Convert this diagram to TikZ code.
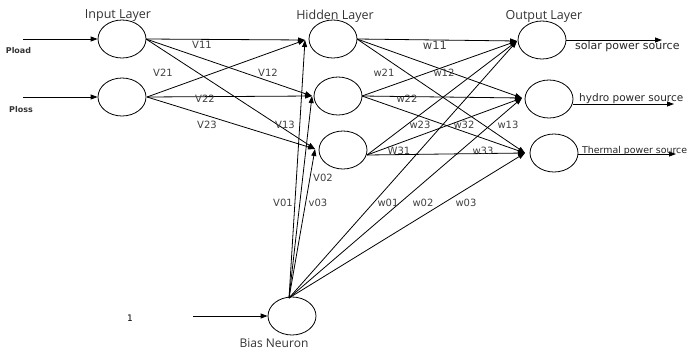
\documentclass[tikz,border=0pt]{standalone}
\usepackage{fontspec}
\setmainfont{DejaVu Sans}
\newfontfamily\titlefont{Open Sans}
\usetikzlibrary{shapes.geometric,arrows.meta}
\tikzset{
  neuron/.style={ellipse,draw,line width=0.8pt,minimum width=48pt,minimum height=38pt,inner sep=0pt},
  link/.style={line width=0.8pt},
  arr/.style={link,-{Triangle[length=7pt,width=5pt]}},
  wlabel/.style={font=\fontsize{10}{11}\selectfont,inner sep=0pt,text=black!75},
  title/.style={font=\titlefont\fontsize{12.5}{14}\selectfont,inner sep=0pt,text=black!80},
  outlabel/.style={anchor=west,inner sep=0pt,text=black!85},
}
\begin{document}
\begin{tikzpicture}[x=1pt,y=-1pt]
\useasboundingbox (0,0) rectangle (690,351);

% layer titles
\node[title] (tin) at (118,16) {Input Layer};
\node[title] (thid) at (335,16) {Hidden Layer};
\node[title] (tout) at (544,16) {Output Layer};

% neurons
\node[neuron] (I1) at (122,39) {};
\node[neuron] (I2) at (122,97) {};
\node[neuron] (H1) at (333,39) {};
\node[neuron] (H2) at (338,96) {};
\node[neuron] (H3) at (343,150) {};
\node[neuron] (O1) at (542,40) {};
\node[neuron] (O2) at (549,99) {};
\node[neuron] (O3) at (554,153) {};
\node[neuron] (B) at (292,316) {};
\node[title,font=\titlefont\fontsize{12}{13}\selectfont] (tbias) at (274,343) {Bias Neuron};

% points where incoming arrows meet
\coordinate (h1in) at (305,40);
\coordinate (h2in) at (312,96);
\coordinate (h3in) at (315,149);
\coordinate (o1in) at (517,41);
\coordinate (o2in) at (522,98);
\coordinate (o3in) at (525,153);
% points where outgoing lines leave
\coordinate (i1out) at (146,39);
\coordinate (i2out) at (147,97);
\coordinate (h1out) at (357,39);
\coordinate (h2out) at (362,96);
\coordinate (h3out) at (367,155);
\coordinate (bout) at (289,298);

% external inputs
\coordinate (pl) at (23,39);
\coordinate (ps) at (23,97);
\coordinate (one) at (193,316);
\draw[arr] (pl) -- (I1);
\draw[arr] (ps) -- (I2);
\draw[arr] (one) -- (B);
\node[font=\bfseries\fontsize{8}{9}\selectfont,inner sep=0pt,text=black!80] (lpl) at (18.5,51) {Pload};
\node[font=\bfseries\fontsize{8}{9}\selectfont,inner sep=0pt,text=black!80] (lps) at (21,110) {Ploss};
\node[font=\fontsize{9}{10}\selectfont,inner sep=0pt] (l1) at (130,318) {1};

% input -> hidden
\foreach \s in {i1out,i2out}{
  \foreach \t in {h1in,h2in,h3in}{
    \draw[arr] (\s) -- (\t);
  }
}
% hidden -> output
\foreach \s in {h1out,h2out,h3out}{
  \foreach \t in {o1in,o2in,o3in}{
    \draw[arr] (\s) -- (\t);
  }
}
% bias -> hidden and output
\foreach \t in {h1in,h2in,h3in,o1in,o2in,o3in}{
  \draw[arr] (bout) -- (\t);
}

% outputs
\coordinate (e1) at (662,40);
\coordinate (e2) at (674,104);
\coordinate (e3) at (676,154);
\draw[arr] (O1.east) -- (e1);
\draw[arr] (O2.east |- e2) -- (e2);
\draw[arr] (O3.east |- e3) -- (e3);
\node[outlabel,font=\fontsize{11}{12}\selectfont] (ls) at (575,46) {solar power source};
\node[outlabel,font=\fontsize{10.5}{12}\selectfont] (lh) at (579,99) {hydro power source};
\node[outlabel,font=\fontsize{9.4}{11}\selectfont] (lt) at (582,151) {Thermal power source};

% weight labels
\node[wlabel] at (202,45) {V11};
\node[wlabel] at (163,73) {V21};
\node[wlabel] at (268,73) {V12};
\node[wlabel] at (205,99) {V22};
\node[wlabel] at (207,125) {V23};
\node[wlabel] at (285,125) {V13};
\node[wlabel,font=\fontsize{11.5}{13}\selectfont] at (435,45) {w11};
\node[wlabel] at (384,73) {w21};
\node[wlabel] at (444,73) {w12};
\node[wlabel] at (407,99) {w22};
\node[wlabel] at (420,125) {w23};
\node[wlabel] at (464,125) {w32};
\node[wlabel] at (508,125) {w13};
\node[wlabel] at (399,151) {W31};
\node[wlabel] at (483,151) {w33};
\node[wlabel] at (323,178) {V02};
\node[wlabel] at (283,203) {V01};
\node[wlabel] at (318,203) {v03};
\node[wlabel] at (388,203) {w01};
\node[wlabel] at (423,203) {w02};
\node[wlabel] at (466,203) {w03};
\end{tikzpicture}
\end{document}
